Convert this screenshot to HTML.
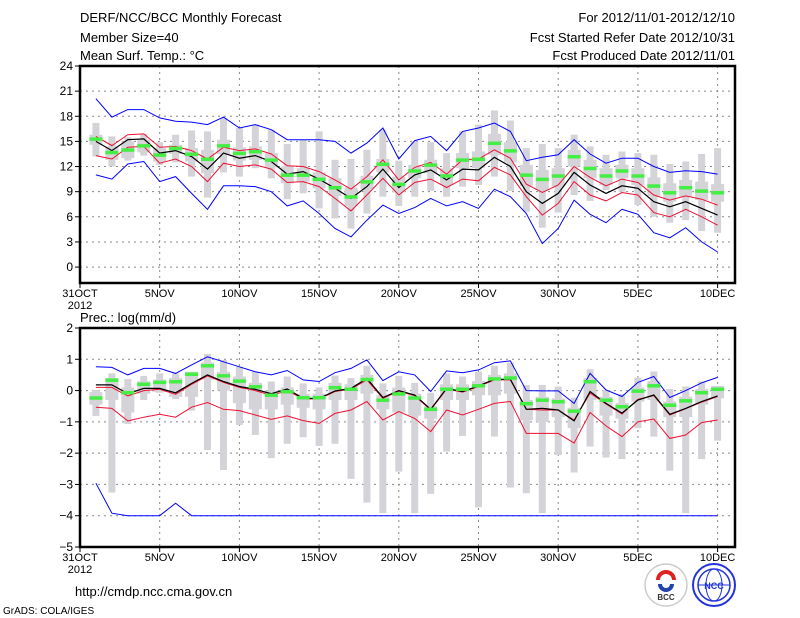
<!DOCTYPE html>
<html><head><meta charset="utf-8">
<style>
body{margin:0;background:#fff;}
svg{display:block;font-family:"Liberation Sans",sans-serif;}
</style></head>
<body>
<svg id="chart" width="800" height="618" viewBox="0 0 800 618" xmlns="http://www.w3.org/2000/svg">
<rect width="800" height="618" fill="#fff"/>
<g font-size="13" fill="#000">
<text x="80" y="22">DERF/NCC/BCC Monthly Forecast</text>
<text x="80" y="42">Member Size=40</text>
<text x="80" y="60">Mean Surf. Temp.: °C</text>
<text x="735" y="22" text-anchor="end">For 2012/11/01-2012/12/10</text>
<text x="735" y="42" text-anchor="end">Fcst Started Refer Date 2012/10/31</text>
<text x="735" y="60" text-anchor="end">Fcst Produced Date 2012/11/01</text>
<text x="80" y="322">Prec.: log(mm/d)</text>
<text x="75" y="596" font-size="13">http://cmdp.ncc.cma.gov.cn</text>
<text x="3" y="614" font-size="10">GrADS: COLA/IGES</text>
</g>
<g>
<circle cx="666" cy="585" r="21" fill="#fff" stroke="#ccc" stroke-width="1.5"/>
<path d="M658 580 a8 8 0 1 1 16 0" fill="none" stroke="#d22" stroke-width="4"/>
<path d="M660 584 a6 6 0 0 0 12 0" fill="none" stroke="#24a" stroke-width="4"/>
<text x="666" y="600" font-size="8" text-anchor="middle" font-weight="bold" fill="#333">BCC</text>
<circle cx="714" cy="585" r="21" fill="#fff" stroke="#23d" stroke-width="2"/>
<ellipse cx="714" cy="585" rx="16" ry="16" fill="none" stroke="#23d" stroke-width="1.5"/>
<ellipse cx="714" cy="585" rx="8" ry="16" fill="none" stroke="#23d" stroke-width="1"/>
<line x1="698" y1="585" x2="730" y2="585" stroke="#23d"/>
<text x="714" y="589" font-size="9" text-anchor="middle" font-weight="bold" fill="#23d">NCC</text>
</g>
<g id="plots"></g>
</svg>
<script>
// ---- Temperature data (days 1..40 = Nov1..Dec10)
const tBlueUp=[20.1,17.9,18.8,18.8,17.8,17.4,17.3,17.0,17.9,16.6,17.0,16.4,15.2,15.2,15.2,15.0,13.6,14.8,16.6,12.9,15.1,15.6,13.9,16.2,16.6,17.2,16.2,12.7,13.1,13.4,15.2,13.5,12.4,13.0,13.0,12.0,11.3,11.5,11.4,11.1];
const tRedUp=[15.6,14.5,15.8,15.9,14.3,14.4,13.9,12.9,14.3,13.9,14.1,13.5,12.1,12.0,11.4,10.4,9.3,10.8,12.8,10.4,11.9,12.5,11.1,12.8,12.9,14.0,13.0,9.9,8.9,9.8,12.0,10.7,9.7,10.5,10.1,8.6,8.0,8.5,8.1,7.4];
const tMean=[15.0,13.9,15.2,15.3,13.6,13.9,13.2,11.7,13.6,13.0,13.3,12.6,11.1,11.4,10.5,9.4,8.2,9.6,11.7,9.5,11.0,11.6,10.4,11.7,11.6,13.1,12.0,9.0,7.6,8.8,11.3,9.8,8.8,9.7,9.4,7.8,7.2,7.8,7.0,6.2];
const tRedLo=[13.3,12.9,14.3,14.4,12.4,12.9,12.0,10.2,12.4,12.0,12.2,11.7,10.1,10.2,9.6,8.2,6.7,8.6,10.6,8.6,10.1,10.5,9.5,10.5,10.3,11.9,11.0,8.4,6.2,7.6,10.2,8.6,7.9,8.9,8.6,6.5,6.0,6.9,6.0,5.0];
const tBlueLo=[11.0,10.5,12.3,12.6,10.2,10.8,8.8,6.9,9.7,9.7,9.6,9.0,7.3,7.9,6.4,4.6,3.6,5.6,7.4,6.4,7.1,8.2,7.3,7.8,7.0,9.3,8.4,6.4,2.8,4.6,8.0,6.3,5.3,6.9,6.3,4.1,3.5,4.7,3.0,1.8];
const tObs=[15.3,13.7,14.0,14.5,13.4,14.2,13.5,12.9,14.5,13.6,13.8,12.8,11.0,11.0,10.5,9.5,8.4,10.2,12.3,9.9,11.5,12.2,10.9,12.8,12.9,14.8,13.9,11.0,10.5,10.9,13.2,11.8,10.9,11.5,10.9,9.7,8.9,9.5,9.1,8.9];
const tMax=[17.2,15.6,15.5,15.9,14.9,15.8,16.3,16.2,17.8,16.6,17.0,16.4,14.7,15.2,16.2,12.8,12.9,14.0,16.4,12.7,15.0,14.9,13.6,16.2,17.0,18.7,17.5,14.2,14.7,14.2,15.8,14.4,13.4,13.8,13.6,13.4,12.3,12.6,13.5,14.2];
const tMin=[13.2,12.0,12.7,13.3,12.2,12.5,10.8,8.3,11.3,10.8,11.8,10.6,8.1,8.8,7.0,5.8,4.6,6.4,8.4,7.3,8.4,9.1,8.4,9.6,9.8,10.8,9.1,6.6,4.7,6.5,8.6,7.9,9.2,9.0,7.4,6.0,5.3,5.6,4.3,4.1];
const tQ3=[15.8,14.4,15.0,15.2,14.2,14.6,14.2,14.0,15.2,14.3,14.4,13.6,12.0,11.8,11.3,10.6,9.5,10.9,12.9,10.8,12.2,12.8,11.8,13.6,13.8,15.9,14.9,12.2,11.6,11.8,14.0,12.8,11.8,12.2,11.8,10.7,10.0,10.4,10.2,9.9];
const tQ1=[14.6,12.8,13.0,13.7,12.6,13.5,12.6,11.2,13.5,12.7,12.8,11.9,10.0,10.2,9.4,8.5,7.3,9.3,11.3,8.9,10.6,11.2,9.8,11.8,11.8,13.4,12.5,9.7,9.2,9.6,12.0,10.6,9.8,10.6,9.8,8.5,7.8,8.4,8.0,7.8];
const tTicks=[24,21,18,15,12,9,6,3,0];
// ---- Precipitation data (log mm/d)
const pBlueUp=[0.76,0.74,0.5,0.71,0.71,0.55,0.82,1.08,0.92,0.76,0.6,0.5,0.64,0.34,0.29,0.57,0.71,0.98,0.32,0.6,0.5,-0.03,0.63,0.57,0.66,0.89,0.95,0,-0.01,-0.01,-0.41,0.55,0.02,-0.19,0.26,0.45,-0.22,0,0.25,0.42];
const pRedUp=[0.1,0.1,-0.17,0.0,0.04,-0.12,0.2,0.47,0.26,0.1,0.0,-0.15,0.0,-0.27,-0.27,-0.03,0.05,0.34,-0.25,-0.02,-0.16,-0.62,0.05,-0.05,0.13,0.34,0.34,-0.6,-0.62,-0.62,-0.94,-0.08,-0.43,-0.75,-0.28,-0.16,-0.78,-0.58,-0.37,-0.19];
const pMean=[0.18,0.18,-0.1,0.07,0.07,-0.07,0.23,0.5,0.29,0.13,0.04,-0.1,0.05,-0.25,-0.25,-0.01,0.07,0.39,-0.22,0,-0.14,-0.6,0.07,-0.03,0.15,0.36,0.36,-0.6,-0.57,-0.62,-0.97,-0.03,-0.41,-0.72,-0.3,-0.14,-0.76,-0.57,-0.35,-0.17];
const pRedLo=[-0.53,-0.57,-0.97,-0.85,-0.76,-0.85,-0.53,-0.38,-0.6,-0.64,-0.78,-0.92,-0.81,-0.96,-1.05,-0.73,-0.62,-0.35,-0.94,-0.67,-0.89,-1.31,-0.62,-0.78,-0.6,-0.41,-0.35,-1.37,-1.37,-1.37,-1.68,-0.7,-1.13,-1.47,-1.0,-0.91,-1.53,-1.42,-1.02,-0.94];
const pBlueLo=[-2.96,-3.92,-4,-4,-4,-3.6,-4,-4,-4,-4,-4,-4,-4,-4,-4,-4,-4,-4,-4,-4,-4,-4,-4,-4,-4,-4,-4,-4,-4,-4,-4,-4,-4,-4,-4,-4,-4,-4,-4,-4];
const pObs=[-0.23,0.34,-0.06,0.21,0.27,0.29,0.53,0.8,0.48,0.31,0.13,-0.14,-0.03,-0.22,-0.22,0.1,0.05,0.36,-0.3,-0.1,-0.23,-0.59,0.05,0.05,0.16,0.38,0.41,-0.41,-0.3,-0.35,-0.65,0.29,-0.3,-0.51,-0.01,0.16,-0.46,-0.32,-0.06,0.05];
const pMax=[0.02,0.55,0.37,0.47,0.55,0.55,0.45,1.17,0.98,0.76,0.6,0.29,0.45,0.23,0.1,0.48,0.4,0.79,0.23,0.47,0.25,-0.07,0.55,0.45,0.61,0.79,0.89,0.18,0.18,0.13,-0.23,0.68,0.02,-0.11,0.41,0.61,0.05,0.13,0.29,0.13];
const pMin=[-0.81,-3.26,-1.07,-0.3,-0.07,-0.27,-0.64,-1.9,-2.54,-1.1,-1.42,-2.16,-1.7,-1.49,-1.77,-1.7,-2.82,-3.58,-3.92,-2.59,-3.92,-3.3,-1.95,-1.45,-3.73,-1.47,-3.1,-3.28,-3.92,-2.06,-2.62,-1.79,-2.14,-2.19,-1.2,-1.47,-2.56,-3.92,-2.19,-1.6];
const pQ3=[-0.05,0.4,0.1,0.3,0.35,0.4,0.6,0.9,0.6,0.45,0.25,0.0,0.1,-0.1,-0.1,0.25,0.2,0.5,-0.15,0.1,-0.1,-0.5,0.2,0.2,0.3,0.5,0.55,-0.3,-0.2,-0.25,-0.55,0.4,-0.2,-0.4,0.1,0.3,-0.35,-0.2,0.05,0.15];
const pQ1=[-0.45,-0.3,-0.7,-0.1,-0.05,-0.2,-0.2,0.35,0.0,-0.4,-0.6,-0.6,-0.45,-0.55,-0.6,-0.3,-0.3,-0.1,-0.6,-0.7,-0.8,-0.9,-0.3,-0.3,-0.15,-0.15,-0.1,-0.95,-1.0,-0.85,-1.2,-0.3,-0.8,-0.9,-0.35,-0.3,-0.85,-0.85,-0.45,-0.25];
const pTicks=[2,1,0,-1,-2,-3,-4,-5];
const xLabels=["31OCT","5NOV","10NOV","15NOV","20NOV","25NOV","30NOV","5DEC","10DEC"];

const NS="http://www.w3.org/2000/svg";
const root=document.getElementById('plots');
const X0=80,X1=735,DAY=15.94;
function xScale(d){return X0+d*DAY;}
function mk(tag,attrs,parent){const e=document.createElementNS(NS,tag);for(const k in attrs)e.setAttribute(k,attrs[k]);(parent||root).appendChild(e);return e;}

function panel(name,top,bottom,vmax,vmin,ticks,series){
  const yS=v=>top+(vmax-v)/(vmax-vmin)*(bottom-top);
  const g=mk('g',{});
  
  
  // grid
  ticks.forEach(t=>{if(t<vmax&&t>vmin){const l=mk('line',{x1:X0,x2:X1,y1:yS(t),y2:yS(t),stroke:'#888','stroke-dasharray':'2,4','stroke-width':1},g);
    
    }});
  xLabels.forEach((s,i)=>{if(i>0){const l=mk('line',{x1:xScale(i*5),x2:xScale(i*5),y1:top,y2:bottom,stroke:'#888','stroke-dasharray':'2,4','stroke-width':1},g);
    
    }});
  const s=series;
  // gray ranges
  for(let i=0;i<40;i++){
    const x=xScale(i+1);
    const r=mk('rect',{x:x-3.5,width:7,y:yS(s.max[i]),height:yS(s.min[i])-yS(s.max[i]),fill:'#d3d3d8'},g);
    
    
    const b=mk('rect',{x:x-6.5,width:13,y:yS(s.q3[i]),height:yS(s.q1[i])-yS(s.q3[i]),fill:'#d3d3d8'},g);
    
    
  }
  const line=(arr,color,nm,w)=>{const p=mk('polyline',{points:arr.map((v,i)=>xScale(i+1).toFixed(1)+','+yS(v).toFixed(1)).join(' '),fill:'none',stroke:color,'stroke-width':w||1},g);
    
    };
  line(s.bu,'#0000ff',name+'-max-line');
  line(s.bl,'#0000ff',name+'-min-line');
  line(s.ru,'#ee1133',name+'-upper-line');
  line(s.rl,'#ee1133',name+'-lower-line');
  line(s.m,'#000',name+'-mean-line',1.2);
  for(let i=0;i<40;i++){
    const x=xScale(i+1);
    const r=mk('rect',{x:x-6.5,width:13,y:yS(s.o[i])-1.5,height:3.5,fill:'#44ee44'},g);
    
    
  }
  // frame
  const f=mk('rect',{x:X0,y:top,width:X1-X0,height:bottom-top,fill:'none',stroke:'#000','stroke-width':2.5},g);
  
  
  ticks.forEach(t=>{
    mk('line',{x1:X0-5,x2:X0,y1:yS(t),y2:yS(t),stroke:'#000'},g);
    const tx=mk('text',{x:X0-7,y:yS(t)+4,'text-anchor':'end','font-size':12},g);
    tx.textContent=t<0?'\u2212'+(-t):String(t);
    
    
  });
  xLabels.forEach((lab,i)=>{
    const x=xScale(i*5);
    mk('line',{x1:x,x2:x,y1:bottom,y2:bottom+5,stroke:'#000'},g);
    const tx=mk('text',{x:x,y:bottom+14,'text-anchor':'middle','font-size':11},g);
    tx.textContent=lab;
    
    
  });
  const yr=mk('text',{x:X0,y:bottom+26,'text-anchor':'middle','font-size':11},g);
  yr.textContent='2012';
  
  
}
panel('temperature',66,283,24,-1.9,tTicks,{bu:tBlueUp,ru:tRedUp,m:tMean,rl:tRedLo,bl:tBlueLo,o:tObs,max:tMax,min:tMin,q3:tQ3,q1:tQ1});
panel('precipitation',328,547,2,-5,pTicks,{bu:pBlueUp,ru:pRedUp,m:pMean,rl:pRedLo,bl:pBlueLo,o:pObs,max:pMax,min:pMin,q3:pQ3,q1:pQ1});
</script>
</body></html>
